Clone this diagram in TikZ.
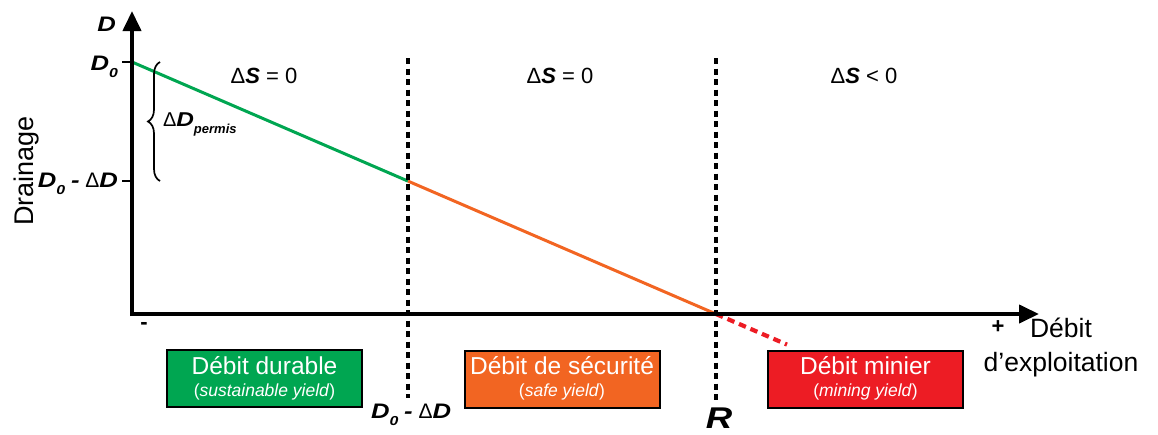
\documentclass[tikz,border=0pt]{standalone}
\usepackage{fontspec}
\usepackage{graphicx}
\setmainfont{Liberation Sans}
\usetikzlibrary{arrows.meta,decorations.pathreplacing,calc}
\definecolor{cgreen}{RGB}{0,166,81}
\definecolor{corange}{RGB}{242,101,34}
\definecolor{cred}{RGB}{237,28,36}
\newcommand\myfs[1]{\fontsize{#1}{#1}\selectfont}
\newcommand\bi[1]{\textbf{\textit{#1}}}
\newcommand\wbi[1]{\scalebox{1.22}[1]{\bi{#1}}}
\newcommand\subz[1]{\raisebox{-0.35em}{\myfs{13}\wbi{#1}}}
\begin{document}
\begin{tikzpicture}[x=1pt,y=-1pt,
  axis/.style={line width=4pt,-{Triangle[length=20pt,width=18pt]}},
  tickmark/.style={line width=2.5pt},
  sep/.style={line width=3.2pt,dash pattern=on 6pt off 4.5pt},
  txt/.style={inner sep=0pt,outer sep=0pt},
  lbl/.style={txt,font=\myfs{21}},
  dsl/.style={txt,anchor=base,font=\myfs{22}},
  yieldbox/.style={draw=black,line width=2pt,minimum width=195pt,minimum height=57pt,inner sep=0pt},
  ytitle/.style={txt,anchor=base,text=white,font=\myfs{24.5}},
  ysub/.style={txt,anchor=base,text=white,font=\myfs{17.5}}
]
\useasboundingbox (0,0) rectangle (1158,434);
% key coordinates
\coordinate (O) at (132,314);
\coordinate (ytip) at (132,11);
\coordinate (xtip) at (1039,314);
\coordinate (D0) at (132,62);
\coordinate (D1) at (408,181.1);
\coordinate (Rp) at (716,314);
\coordinate (Rend) at (787,344.6);
\coordinate (t0) at (122,62);
\coordinate (t1a) at (122,181);
\coordinate (t1b) at (132,181);
\coordinate (s1top) at (408,58);
\coordinate (s1bot) at (408,398);
\coordinate (s2top) at (716,58);
\coordinate (s2bot) at (716,404);
\coordinate (br1) at (160,181);
\coordinate (br2) at (160,62);
% drainage line
\draw[cgreen,line width=3pt] (D0) -- (D1);
\draw[corange,line width=3pt] (D1) -- (Rp);
\draw[cred,line width=4.2pt,dash pattern=on 7.5pt off 5pt] (Rp) -- (Rend);
% separators
\draw[sep] (s1top) -- (s1bot);
\draw[sep] (s2top) -- (s2bot);
% axes
\draw[axis] ($(O)+(0,2)$) -- (ytip);
\draw[axis] ($(O)+(-2,0)$) -- (xtip);
\draw[tickmark] (t0) -- (D0);
\draw[tickmark] (t1a) -- (t1b);
% brace
\draw[line width=1.7pt,decorate,decoration={brace,amplitude=12pt,aspect=0.5}] (br1) -- (br2);
\node[txt,anchor=west,font=\myfs{20}] (dperm) at (163,124) {Δ\wbi{D}\raisebox{-0.35em}{\myfs{13}\bi{permis}}};
% axis labels
\node[lbl,anchor=base east] (ylab) at (116,31) {\wbi{D}};
\node[lbl,anchor=base east] (d0lab) at (118,70) {\wbi{D}\subz{0}};
\node[lbl,anchor=base east] (d1lab) at (118,187) {\wbi{D}\subz{0} \wbi{-} Δ\wbi{D}};
\node[txt,rotate=90,font=\myfs{27}] (drain) at (27,171) {Drainage};
\node[txt,font=\myfs{22}\bfseries] (minus) at (144,326) {-};
\node[txt,font=\myfs{22}\bfseries] (plus) at (998,327) {+};
\node[txt,anchor=base,font=\myfs{26.5}] (deb1) at (1061,337) {Débit};
\node[txt,anchor=base,font=\myfs{26.5}] (deb2) at (1061,371) {d’exploitation};
% delta S labels
\node[dsl] (ds1) at (264,83) {Δ\bi{S} = 0};
\node[dsl] (ds2) at (560,83) {Δ\bi{S} = 0};
\node[dsl] (ds3) at (864,83) {Δ\bi{S} < 0};
% bottom labels
\node[lbl,anchor=base west] (d1bot) at (371,418) {\wbi{D}\subz{0} \wbi{-} Δ\wbi{D}};
\node[txt,anchor=base,font=\myfs{30}] (rlab) at (719,428) {\wbi{R}};
% yield boxes
\node[yieldbox,fill=cgreen] (bg) at (264.5,378) {};
\node[ytitle] (bgt) at (264.5,374) {Débit durable};
\node[ysub] (bgs) at (264.5,396.5) {(\textit{sustainable yield})};
\node[yieldbox,fill=corange] (bo) at (562,379.5) {};
\node[ytitle] (bot) at (562,374) {Débit de sécurité};
\node[ysub] (bos) at (562,396.5) {(\textit{safe yield})};
\node[yieldbox,fill=cred] (br) at (865.5,379.5) {};
\node[ytitle] (brt) at (865.5,374) {Débit minier};
\node[ysub] (brs) at (865.5,396.5) {(\textit{mining yield})};
\end{tikzpicture}
\end{document}
